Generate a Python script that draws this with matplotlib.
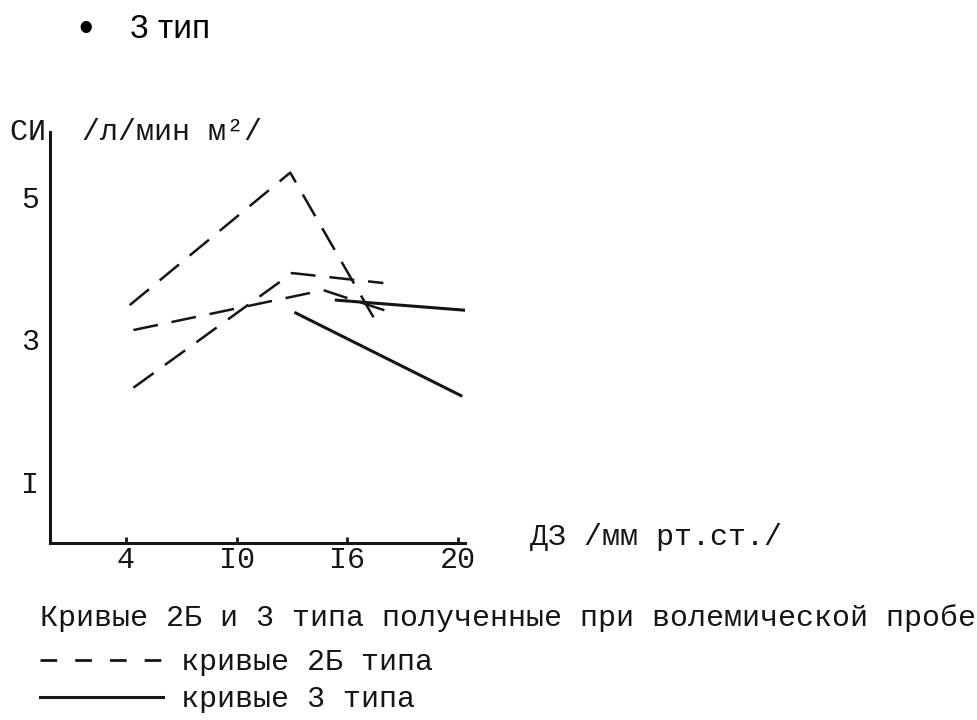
import numpy as np
import matplotlib
matplotlib.use("Agg")
import matplotlib.pyplot as plt
from matplotlib.lines import Line2D

plt.rcParams['lines.scale_dashes'] = False

# ДЗ, мм рт.ст. / СИ, л/мин м2
dz_2b_a = [4.2, 12.9, 17.0]
si_2b_a = [3.48, 5.34, 3.27]
dz_2b_b = [4.4, 13.0, 17.3]
si_2b_b = [2.32, 3.93, 3.79]
dz_2b_c = [4.4, 14.7, 17.4]
si_2b_c = [3.13, 3.69, 3.40]
dz_3_a = [15.4, 20.2]
si_3_a = [3.55, 3.41]
dz_3_b = [13.2, 20.1]
si_3_b = [3.37, 2.21]

x_ticks = [4, 10, 16, 20]
x_ticklabels = ['4', 'I0', 'I6', '20']
y_ticks = [1, 3, 5]
y_ticklabels = ['I', '3', '5']

# axis on the scan is not linear in mmHg, ticks are evenly spaced
mm_knots = [-10, 4, 10, 16, 20, 30]
pos_knots = [-14 / 6, 0, 1, 2, 3, 5.5]

def fwd(x):
    return np.interp(x, mm_knots, pos_knots)

def inv(x):
    return np.interp(x, pos_knots, mm_knots)

ink = '#151515'
mono = 'Liberation Mono'
fs = 21.6

fig = plt.figure(figsize=(9.78, 7.2), dpi=100)
ax = fig.add_axes([0.0511, 0.2458, 0.4244, 0.5708])
ax.set_xscale('function', functions=(fwd, inv))

dash = (0, (18, 10))
for x, y in [(dz_2b_a, si_2b_a), (dz_2b_b, si_2b_b), (dz_2b_c, si_2b_c)]:
    ax.plot(x, y, color=ink, lw=1.8, linestyle=dash)
for x, y in [(dz_3_a, si_3_a), (dz_3_b, si_3_b)]:
    ax.plot(x, y, color=ink, lw=2.2)

ax.set_xlim(-0.12, 20.25)
ax.set_ylim(0.14, 5.91)
ax.spines['top'].set_visible(False)
ax.spines['right'].set_visible(False)
ax.spines['left'].set_linewidth(2.2)
ax.spines['bottom'].set_linewidth(2.2)
ax.spines['left'].set_color(ink)
ax.spines['bottom'].set_color(ink)

ax.set_xticks(x_ticks)
ax.set_xticklabels(x_ticklabels, fontfamily=mono, fontsize=fs)
ax.set_yticks(y_ticks)
ax.set_yticklabels(y_ticklabels, fontfamily=mono, fontsize=fs)
ax.tick_params(axis='x', direction='in', length=4, width=2, pad=2, colors=ink)
ax.tick_params(axis='y', length=0, pad=8, colors=ink)

ax.set_ylabel('СИ  /л/мин м²/', rotation=0, fontfamily=mono, fontsize=fs,
              ha='left', va='center', color=ink)
ax.yaxis.set_label_coords(-0.096, 1.0)
ax.set_xlabel('ДЗ /мм рт.ст./', fontfamily=mono, fontsize=fs,
              ha='left', va='center', color=ink)
ax.xaxis.set_label_coords(1.157, 0.015)

# header of the slide
fig.text(78 / 978, 1 - 30 / 720, '•', fontfamily='Liberation Sans', fontsize=30,
         ha='left', va='center')
fig.text(130 / 978, 1 - 30 / 720, '3 тип', fontfamily='Liberation Sans', fontsize=24,
         ha='left', va='center')

fig.text(40 / 978, 1 - 618 / 720, 'Кривые 2Б и 3 типа полученные при волемической пробе',
         fontfamily=mono, fontsize=fs, ha='left', va='center', color=ink)

handles = [Line2D([], [], color=ink, lw=2.0, linestyle=(0, (12, 13))),
           Line2D([], [], color=ink, lw=2.2)]
fig.legend(handles, ['кривые 2Б типа', 'кривые 3 типа'],
           loc='upper left', bbox_to_anchor=(40 / 978, 1 - 648 / 720),
           frameon=False, prop={'family': mono, 'size': fs},
           handlelength=4.1, handletextpad=0.6, labelspacing=0.3,
           borderpad=0, borderaxespad=0, labelcolor=ink)

plt.savefig('out.png', dpi=100)
